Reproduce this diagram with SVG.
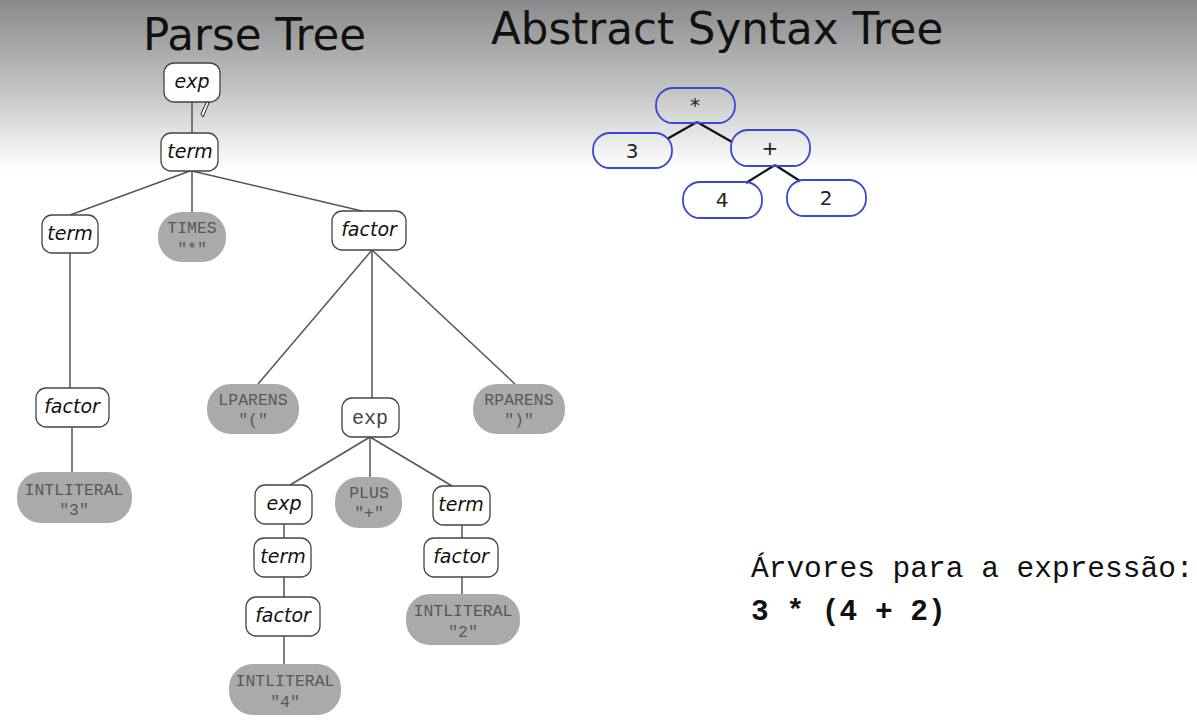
<svg xmlns="http://www.w3.org/2000/svg" width="1197" height="721" viewBox="0 0 1197 721">
<defs>
<linearGradient id="bg" x1="0" y1="0" x2="0" y2="1">
<stop offset="0" stop-color="#8a8a8a"/>
<stop offset="0.5" stop-color="#c4c4c4"/>
<stop offset="0.9" stop-color="#fafafa"/>
<stop offset="1" stop-color="#ffffff"/>
</linearGradient>
<style>
.title{font-family:"DejaVu Sans",sans-serif;font-size:43.6px;fill:#111}
.nt rect{fill:#fff;stroke:#444;stroke-width:1.3}
.nt text{font-family:"DejaVu Sans",sans-serif;font-style:italic;font-size:19px;fill:#111;text-anchor:middle}
.nt text.mono{font-family:"Liberation Mono",monospace;font-style:normal;font-size:20px;fill:#444}
.tk rect{fill:#aaaaaa;stroke:none}
.tk text{font-family:"Liberation Mono",monospace;font-size:16.5px;fill:#585858;text-anchor:middle}
.ast rect{fill:none;stroke:#3c46d6;stroke-width:1.8}
.ast text{font-family:"DejaVu Sans",sans-serif;font-size:20px;fill:#222;text-anchor:middle}
.pt line{stroke:#555;stroke-width:1.5}
.ae line{stroke:#111;stroke-width:2.2}
.cap{font-family:"Liberation Mono",monospace;font-size:29.5px;fill:#111}
</style>
</defs>
<rect x="0" y="0" width="1197" height="180" fill="url(#bg)"/>
<rect x="0" y="180" width="1197" height="541" fill="#fff"/>
<text class="title" x="143" y="50">Parse Tree</text>
<text class="title" x="491" y="44">Abstract Syntax Tree</text>

<g id="connectors">
<g class="pt">
<line x1="192" y1="102" x2="192" y2="133"/>
<line x1="190" y1="171" x2="70" y2="215"/>
<line x1="192" y1="171" x2="192" y2="212"/>
<line x1="192" y1="171" x2="362" y2="211"/>
<line x1="70" y1="253" x2="70" y2="388"/>
<line x1="72" y1="427" x2="72" y2="472"/>
<line x1="372" y1="250" x2="258" y2="384"/>
<line x1="372" y1="250" x2="372" y2="398"/>
<line x1="372" y1="250" x2="515" y2="384"/>
<line x1="370" y1="437" x2="290" y2="485"/>
<line x1="370" y1="437" x2="370" y2="477"/>
<line x1="370" y1="437" x2="452" y2="486"/>
<line x1="284" y1="524" x2="284" y2="538"/>
<line x1="284" y1="577" x2="284" y2="597"/>
<line x1="284" y1="636" x2="284" y2="664"/>
<line x1="462" y1="525" x2="462" y2="538"/>
<line x1="462" y1="577" x2="462" y2="594"/>
</g>
<g class="ae">
<line x1="697" y1="122" x2="667" y2="139"/>
<line x1="697" y1="122" x2="732" y2="142"/>
<line x1="775" y1="165" x2="746" y2="183"/>
<line x1="775" y1="165" x2="800" y2="181"/>
</g>
</g>

<g id="pt-exp" class="nt"><rect x="164" y="63" width="56" height="39" rx="10"/><text x="192" y="88">exp</text></g>
<path d="M203,117 L201,114 L206,103 Q208,101 209,103 L204,115 Z" fill="#fff" stroke="#222" stroke-width="1"/>
<g id="pt-term1" class="nt"><rect x="161" y="133" width="57" height="38" rx="10"/><text x="190" y="158">term</text></g>
<g id="pt-term2" class="nt"><rect x="42" y="215" width="56" height="38" rx="10"/><text x="70" y="240">term</text></g>
<g id="pt-times" class="tk"><rect x="158" y="212" width="68" height="50" rx="24"/><text x="192" y="233">TIMES</text><text x="192" y="254">"*"</text></g>
<g id="pt-factor1" class="nt"><rect x="332" y="211" width="74" height="39" rx="10"/><text x="369" y="236">factor</text></g>
<g id="pt-factor2" class="nt"><rect x="36" y="388" width="73" height="39" rx="10"/><text x="72" y="413">factor</text></g>
<g id="pt-int3" class="tk"><rect x="17" y="472" width="115" height="51" rx="24"/><text x="74" y="495">INTLITERAL</text><text x="74" y="515">"3"</text></g>
<g id="pt-lparens" class="tk"><rect x="207" y="384" width="92" height="50" rx="24"/><text x="253" y="405">LPARENS</text><text x="253" y="425">"("</text></g>
<g id="pt-exp2" class="nt"><rect x="342" y="398" width="57" height="39" rx="10"/><text class="mono" x="370" y="424">exp</text></g>
<g id="pt-rparens" class="tk"><rect x="473" y="384" width="92" height="50" rx="24"/><text x="519" y="405">RPARENS</text><text x="519" y="425">")"</text></g>
<g id="pt-exp3" class="nt"><rect x="255" y="485" width="57" height="39" rx="10"/><text x="284" y="510">exp</text></g>
<g id="pt-plus" class="tk"><rect x="335" y="477" width="67" height="51" rx="24"/><text x="369" y="498">PLUS</text><text x="369" y="518">"+"</text></g>
<g id="pt-term3" class="nt"><rect x="433" y="486" width="57" height="39" rx="10"/><text x="461" y="511">term</text></g>
<g id="pt-term4" class="nt"><rect x="254" y="538" width="57" height="39" rx="10"/><text x="283" y="563">term</text></g>
<g id="pt-factor3" class="nt"><rect x="424" y="538" width="74" height="39" rx="10"/><text x="461" y="563">factor</text></g>
<g id="pt-factor4" class="nt"><rect x="246" y="597" width="74" height="39" rx="10"/><text x="283" y="622">factor</text></g>
<g id="pt-int2" class="tk"><rect x="406" y="594" width="114" height="51" rx="24"/><text x="463" y="616">INTLITERAL</text><text x="463" y="637">"2"</text></g>
<g id="pt-int4" class="tk"><rect x="229" y="664" width="112" height="51" rx="24"/><text x="285" y="686">INTLITERAL</text><text x="285" y="707">"4"</text></g>

<g id="ast-times" class="ast"><rect x="656" y="88" width="79" height="35" rx="17"/><text x="695" y="112">*</text></g>
<g id="ast-3" class="ast"><rect x="593" y="133" width="79" height="35" rx="17"/><text x="632" y="158">3</text></g>
<g id="ast-plus" class="ast"><rect x="731" y="130" width="79" height="36" rx="17"/><text x="770" y="155">+</text></g>
<g id="ast-4" class="ast"><rect x="683" y="182" width="79" height="36" rx="17"/><text x="722" y="207">4</text></g>
<g id="ast-2" class="ast"><rect x="787" y="180" width="79" height="36" rx="17"/><text x="826" y="205">2</text></g>

<text class="cap" x="751" y="577">Árvores para a expressão:</text>
<text class="cap" x="751" y="620" font-weight="bold">3 * (4 + 2)</text>
</svg>
